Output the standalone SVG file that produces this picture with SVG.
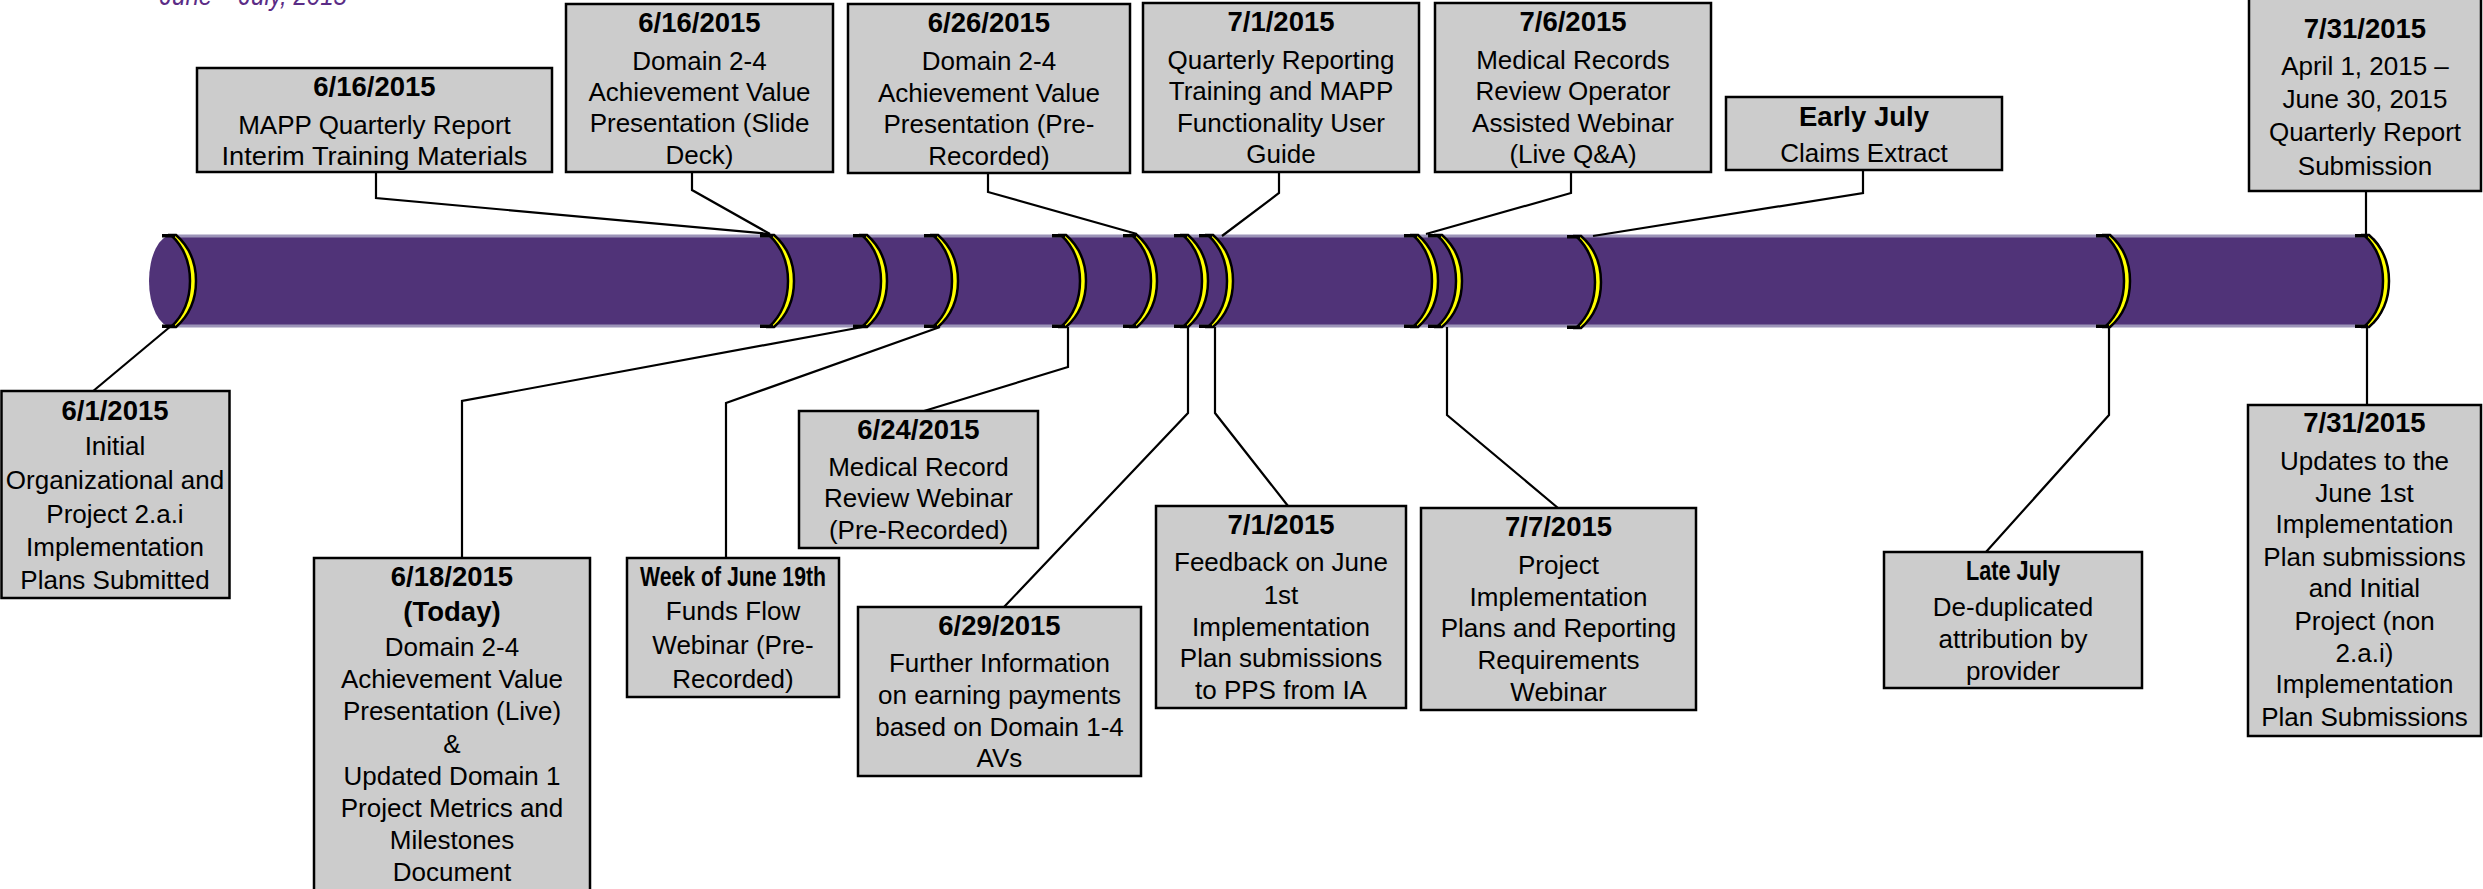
<svg xmlns="http://www.w3.org/2000/svg" xmlns:xlink="http://www.w3.org/1999/xlink" width="2483" height="889" viewBox="0 0 2483 889">
<style>
.box{fill:#CCCCCC;stroke:#000;stroke-width:2.5}
.t{font-family:"Liberation Sans",Arial,sans-serif;font-size:26px;fill:#000;text-anchor:middle}
.b{font-weight:bold;font-size:27.5px}
.con{fill:none;stroke:#000;stroke-width:2.2}
</style>
<defs>
<g id="ring">
<path d="M0,0 C15,14 19,30 19,46 C19,62 15,78 0,92 L5,92 C21,78 25,62 25,46 C25,30 21,14 5,0 Z" fill="#FFFF00" stroke="#000" stroke-width="2.5"/>
<path d="M-9,0.8 L4,0.8 M-9,91.2 L4,91.2" stroke="#000" stroke-width="3.5" fill="none"/>
</g>
</defs>
<rect width="2483" height="889" fill="#FFFFFF"/>
<text x="160" y="4.5" textLength="187" lengthAdjust="spacingAndGlyphs" style="font-family:'Liberation Sans',Arial,sans-serif;font-size:27px;font-style:italic;fill:#5B2C86">June – July, 2015</text>

<g id="timeline">
<ellipse cx="172" cy="281" rx="23" ry="46" fill="#503378"/>
<ellipse cx="2366" cy="281" rx="22" ry="46" fill="#503378"/>
<rect x="172" y="235" width="2194" height="92" fill="#503378"/>
<path d="M172,236 H2366 M172,326 H2366" stroke="#9C94B8" stroke-width="3"/>
<use xlink:href="#ring" x="171" y="235"/>
<use xlink:href="#ring" x="769" y="235"/>
<use xlink:href="#ring" x="862" y="235"/>
<use xlink:href="#ring" x="933" y="235"/>
<use xlink:href="#ring" x="1061" y="235"/>
<use xlink:href="#ring" x="1132" y="235"/>
<use xlink:href="#ring" x="1183" y="235"/>
<use xlink:href="#ring" x="1208" y="235"/>
<use xlink:href="#ring" x="1413" y="235"/>
<use xlink:href="#ring" x="1437" y="235"/>
<use xlink:href="#ring" x="1576" y="236"/>
<use xlink:href="#ring" x="2105" y="235"/>
<use xlink:href="#ring" x="2364" y="235"/>
</g>

<g id="connectors">
<path class="con" d="M92,392 L171,326"/>
<path class="con" d="M376,172 V198 L770,234"/>
<path class="con" d="M692,172 V190 L770,234"/>
<path class="con" d="M988,173 V192 L1137,234"/>
<path class="con" d="M1279,172 V193 L1222,236"/>
<path class="con" d="M1571,172 V193 L1426,234"/>
<path class="con" d="M1863,170 V193 L1593,236"/>
<path class="con" d="M2366,191 V235"/>
<path class="con" d="M462,558 V401 L868,326"/>
<path class="con" d="M726,558 V403 L940,327"/>
<path class="con" d="M924,411 L1068,367 V327"/>
<path class="con" d="M1004,607 L1188,413 V327"/>
<path class="con" d="M1288,506 L1215,413 V327"/>
<path class="con" d="M1558,508 L1447,415 V327"/>
<path class="con" d="M1986,552 L2109,415 V328"/>
<path class="con" d="M2367,405 V328"/>
</g>

<g id="n-0601">
<rect class="box" x="1.5" y="391" width="228" height="207"/>
<text class="t b" x="115" y="420">6/1/2015</text>
<text class="t" x="115" y="455">Initial</text>
<text class="t" x="115" y="489">Organizational and</text>
<text class="t" x="115" y="523">Project 2.a.i</text>
<text class="t" x="115" y="556">Implementation</text>
<text class="t" x="115" y="589">Plans Submitted</text>
</g>

<g id="n-0616a">
<rect class="box" x="197" y="68" width="355" height="104"/>
<text class="t b" x="374.5" y="96">6/16/2015</text>
<text class="t" x="374.5" y="134">MAPP Quarterly Report</text>
<text class="t" x="374.5" y="165" textLength="306" lengthAdjust="spacingAndGlyphs">Interim Training Materials</text>
</g>

<g id="n-0616b">
<rect class="box" x="566" y="4" width="267" height="168"/>
<text class="t b" x="699.5" y="32">6/16/2015</text>
<text class="t" x="699.5" y="70">Domain 2-4</text>
<text class="t" x="699.5" y="101">Achievement Value</text>
<text class="t" x="699.5" y="132">Presentation (Slide</text>
<text class="t" x="699.5" y="164">Deck)</text>
</g>

<g id="n-0626">
<rect class="box" x="848" y="4" width="282" height="169"/>
<text class="t b" x="989" y="32">6/26/2015</text>
<text class="t" x="989" y="70">Domain 2-4</text>
<text class="t" x="989" y="102">Achievement Value</text>
<text class="t" x="989" y="133">Presentation (Pre-</text>
<text class="t" x="989" y="165">Recorded)</text>
</g>

<g id="n-0701a">
<rect class="box" x="1143" y="3" width="276" height="169"/>
<text class="t b" x="1281" y="31">7/1/2015</text>
<text class="t" x="1281" y="69">Quarterly Reporting</text>
<text class="t" x="1281" y="100">Training and MAPP</text>
<text class="t" x="1281" y="132">Functionality User</text>
<text class="t" x="1281" y="163">Guide</text>
</g>

<g id="n-0706">
<rect class="box" x="1435" y="3" width="276" height="169"/>
<text class="t b" x="1573" y="31">7/6/2015</text>
<text class="t" x="1573" y="69">Medical Records</text>
<text class="t" x="1573" y="100">Review Operator</text>
<text class="t" x="1573" y="132">Assisted Webinar</text>
<text class="t" x="1573" y="163">(Live Q&amp;A)</text>
</g>

<g id="n-earlyjuly">
<rect class="box" x="1726" y="97" width="276" height="73"/>
<text class="t b" x="1864" y="126">Early July</text>
<text class="t" x="1864" y="162">Claims Extract</text>
</g>

<g id="n-0731a">
<rect class="box" x="2249" y="-5" width="232" height="196"/>
<text class="t b" x="2365" y="38">7/31/2015</text>
<text class="t" x="2365" y="75">April 1, 2015 –</text>
<text class="t" x="2365" y="108">June 30, 2015</text>
<text class="t" x="2365" y="141">Quarterly Report</text>
<text class="t" x="2365" y="175">Submission</text>
</g>

<g id="n-0618">
<rect class="box" x="314" y="558" width="276" height="345"/>
<text class="t b" x="452" y="586">6/18/2015</text>
<text class="t b" x="452" y="621">(Today)</text>
<text class="t" x="452" y="656">Domain 2-4</text>
<text class="t" x="452" y="688">Achievement Value</text>
<text class="t" x="452" y="720">Presentation (Live)</text>
<text class="t" x="452" y="753">&amp;</text>
<text class="t" x="452" y="785">Updated Domain 1</text>
<text class="t" x="452" y="817">Project Metrics and</text>
<text class="t" x="452" y="849">Milestones</text>
<text class="t" x="452" y="881">Document</text>
</g>

<g id="n-week0619">
<rect class="box" x="627" y="558" width="212" height="139"/>
<text class="t b" x="733" y="586" textLength="186" lengthAdjust="spacingAndGlyphs">Week of June 19th</text>
<text class="t" x="733" y="620">Funds Flow</text>
<text class="t" x="733" y="654">Webinar (Pre-</text>
<text class="t" x="733" y="688">Recorded)</text>
</g>

<g id="n-0624">
<rect class="box" x="799" y="411" width="239" height="137"/>
<text class="t b" x="918.5" y="439">6/24/2015</text>
<text class="t" x="918.5" y="476">Medical Record</text>
<text class="t" x="918.5" y="507">Review Webinar</text>
<text class="t" x="918.5" y="539">(Pre-Recorded)</text>
</g>

<g id="n-0629">
<rect class="box" x="858" y="607" width="283" height="169"/>
<text class="t b" x="999.5" y="635">6/29/2015</text>
<text class="t" x="999.5" y="672">Further Information</text>
<text class="t" x="999.5" y="704">on earning payments</text>
<text class="t" x="999.5" y="736">based on Domain 1-4</text>
<text class="t" x="999.5" y="767">AVs</text>
</g>

<g id="n-0701b">
<rect class="box" x="1156" y="506" width="250" height="202"/>
<text class="t b" x="1281" y="534">7/1/2015</text>
<text class="t" x="1281" y="571">Feedback on June</text>
<text class="t" x="1281" y="604">1st</text>
<text class="t" x="1281" y="636">Implementation</text>
<text class="t" x="1281" y="667">Plan submissions</text>
<text class="t" x="1281" y="699">to PPS from IA</text>
</g>

<g id="n-0707">
<rect class="box" x="1421" y="508" width="275" height="202"/>
<text class="t b" x="1558.5" y="536">7/7/2015</text>
<text class="t" x="1558.5" y="574">Project</text>
<text class="t" x="1558.5" y="606">Implementation</text>
<text class="t" x="1558.5" y="637">Plans and Reporting</text>
<text class="t" x="1558.5" y="669">Requirements</text>
<text class="t" x="1558.5" y="701">Webinar</text>
</g>

<g id="n-latejuly">
<rect class="box" x="1884" y="552" width="258" height="136"/>
<text class="t b" x="2013" y="580" textLength="94" lengthAdjust="spacingAndGlyphs">Late July</text>
<text class="t" x="2013" y="616">De-duplicated</text>
<text class="t" x="2013" y="648">attribution by</text>
<text class="t" x="2013" y="680">provider</text>
</g>

<g id="n-0731b">
<rect class="box" x="2248" y="405" width="233" height="331"/>
<text class="t b" x="2364.5" y="432">7/31/2015</text>
<text class="t" x="2364.5" y="470">Updates to the</text>
<text class="t" x="2364.5" y="502">June 1st</text>
<text class="t" x="2364.5" y="533">Implementation</text>
<text class="t" x="2364.5" y="566">Plan submissions</text>
<text class="t" x="2364.5" y="597">and Initial</text>
<text class="t" x="2364.5" y="630">Project (non</text>
<text class="t" x="2364.5" y="662">2.a.i)</text>
<text class="t" x="2364.5" y="693">Implementation</text>
<text class="t" x="2364.5" y="726">Plan Submissions</text>
</g>
</svg>
